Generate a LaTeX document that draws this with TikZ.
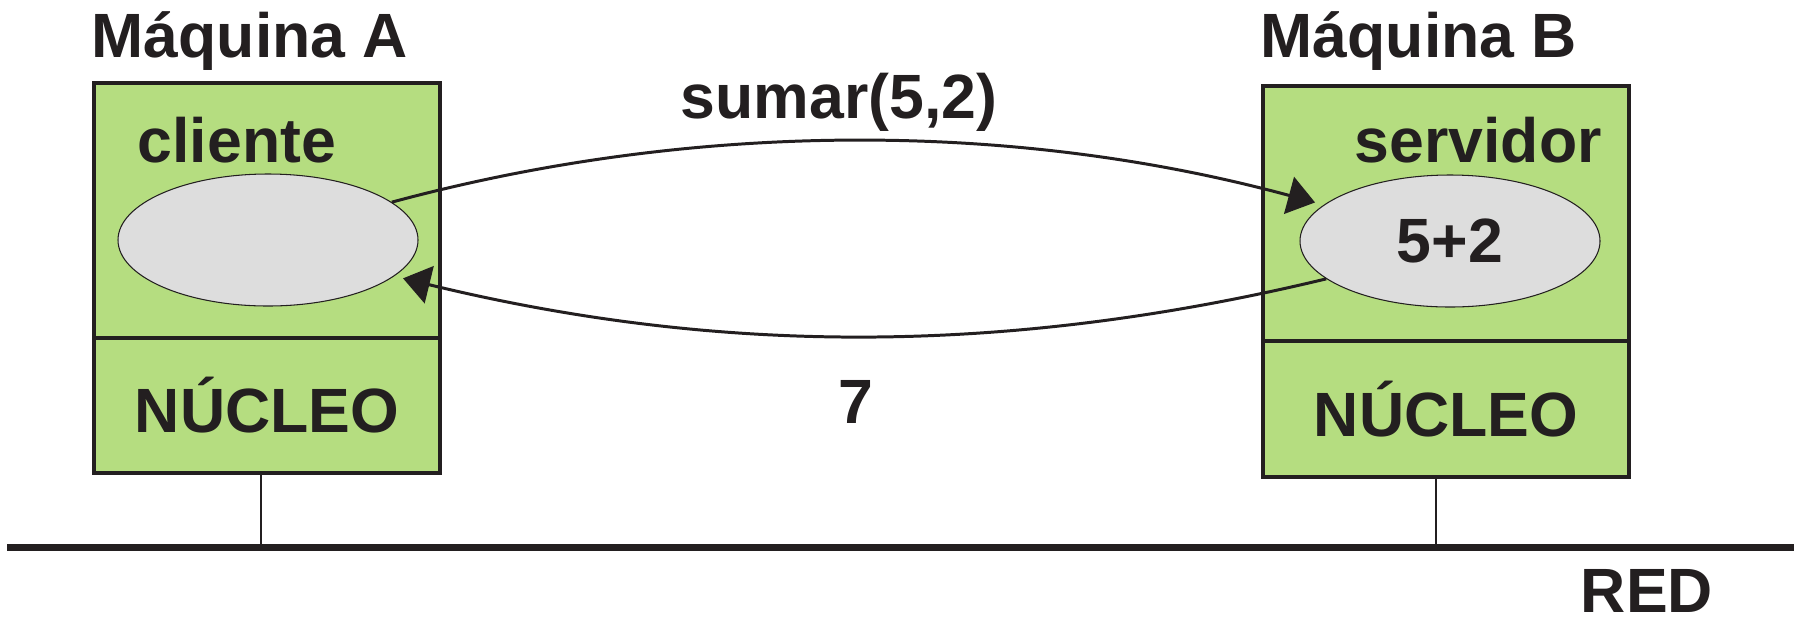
\documentclass[tikz,border=0pt]{standalone}
\usepackage{fontspec}
\setmainfont{Liberation Sans}
\usetikzlibrary{shapes.geometric,arrows.meta,positioning}
\definecolor{hostgreen}{RGB}{181,221,128}
\definecolor{procgray}{RGB}{221,221,221}
\definecolor{inkblack}{RGB}{35,31,32}
\tikzset{
  txt/.style={font=\bfseries\fontsize{17.8}{20}\selectfont, text=inkblack, inner sep=0pt},
  hostbox/.style={draw=inkblack, fill=hostgreen, line width=1pt, txt, minimum width=#1},
  procbox/.style={ellipse, draw=inkblack, fill=procgray, line width=0.3pt, minimum width=3cm, minimum height=1.32cm, txt},
  msg/.style={draw=inkblack, line width=0.85pt, shorten >=0.09cm, -{Triangle[length=0.27cm,width=0.38cm]}}
}
\begin{document}
\begin{tikzpicture}[y=-1cm]
\useasboundingbox (0,0) rectangle (18.02,6.2);
\node[hostbox=3.46cm, minimum height=2.55cm] (hostA) at (2.67,2.105) {};
\node[hostbox=3.46cm, minimum height=1.35cm] (nucA) at (2.67,4.055) {NÚCLEO};
\node[hostbox=3.66cm, minimum height=2.55cm] (hostB) at (14.46,2.135) {};
\node[hostbox=3.66cm, minimum height=1.36cm] (nucB) at (14.46,4.09) {NÚCLEO};
\node[txt, anchor=base west] (titleA) at (0.91,0.57) {Máquina A};
\node[txt, anchor=base west] (titleB) at (12.60,0.57) {Máquina B};
\node[txt, anchor=base west] (cliente) at (1.37,1.62) {cliente};
\node[txt, anchor=base west] (servidor) at (13.54,1.62) {servidor};
\node[procbox] (procA) at (2.68,2.40) {};
\node[procbox] (procB) at (14.50,2.41) {5+2};
\node[txt, anchor=base] (call) at (8.39,1.18) {sumar(5,2)};
\node[txt, anchor=base] (result) at (8.56,4.23) {7};
\node[txt, anchor=base] (red) at (16.47,6.12) {RED};
\draw[msg] (procA.17) .. controls (6.92,1.21) and (10.11,1.20) .. (procB.164);
\draw[msg] (procB.197) .. controls (10.10,3.55) and (7.22,3.56) .. (procA.344);
\coordinate (netW) at (0.07,5.475);
\coordinate (netE) at (17.94,5.475);
\coordinate (tapA) at (2.61,5.475);
\coordinate (tapB) at (14.36,5.475);
\draw[inkblack, line width=2pt] (netW) -- (netE);
\draw[inkblack, line width=0.7pt] (tapA |- nucA.south) -- (tapA);
\draw[inkblack, line width=0.7pt] (tapB |- nucB.south) -- (tapB);
\end{tikzpicture}
\end{document}
